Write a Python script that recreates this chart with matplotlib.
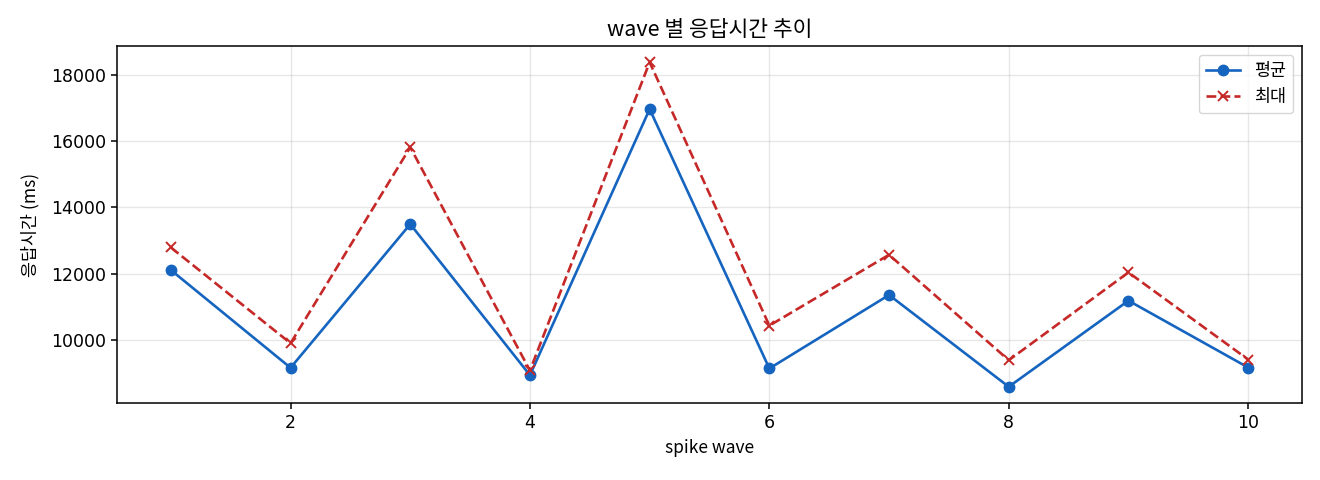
import matplotlib
matplotlib.use("Agg")
import matplotlib.pyplot as plt

plt.rcParams['font.family'] = ['Noto Sans CJK KR', 'DejaVu Sans']
plt.rcParams['axes.unicode_minus'] = False

waves = [1, 2, 3, 4, 5, 6, 7, 8, 9, 10]
avg_ms = [12105, 9158, 13489, 8935, 16956, 9137, 11353, 8586, 11182, 9167]
max_ms = [12785, 9898, 15805, 9077, 18370, 10430, 12565, 9387, 12033, 9408]

fig = plt.figure(figsize=(13.2, 4.8), dpi=100)
ax = fig.add_axes([117/1320, 1-403/480, (1302-117)/1320, (403-46)/480])
ax.plot(waves, avg_ms, marker='o', color='#1565C0', label='평균',
        linewidth=1.9, markersize=7.5)
ax.plot(waves, max_ms, marker='x', linestyle='--', color='#C62828', label='최대',
        linewidth=1.9, markersize=7.5, markeredgewidth=1.4)
ax.set_title('wave 별 응답시간 추이', fontsize=15.5, pad=7)
ax.set_xlabel('spike wave', fontsize=12.5, labelpad=5)
ax.set_ylabel('응답시간 (ms)', fontsize=12.5, labelpad=8)
ax.tick_params(labelsize=12.5, length=4.5, width=1.1)
for lab in ax.get_xticklabels() + ax.get_yticklabels():
    lab.set_fontfamily(['DejaVu Sans'])
for s in ax.spines.values():
    s.set_linewidth(1.1)
ax.grid(True, alpha=0.3, linewidth=1.0)
ax.legend(loc='upper right', fontsize=12.5)
fig.savefig('out.png', dpi=100)
